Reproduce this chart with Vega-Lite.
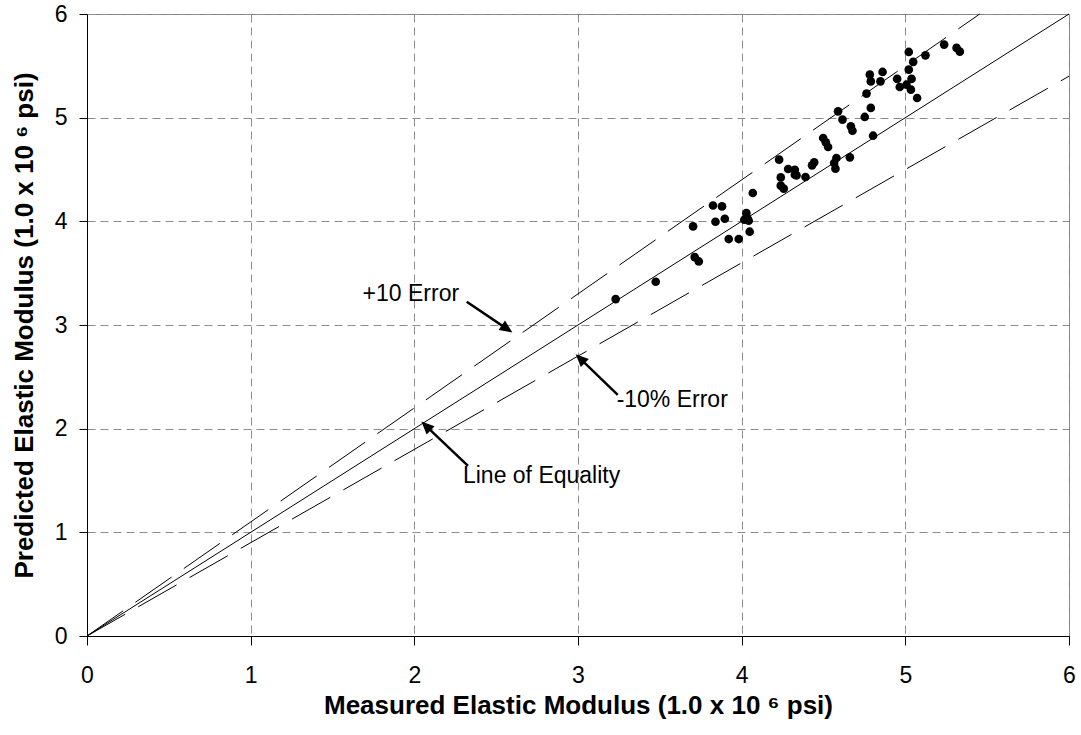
{
  "$schema": "https://vega.github.io/schema/vega-lite/v6.json",
  "width": 982,
  "height": 622,
  "autosize": {"type": "none"},
  "padding": {"left": 87, "top": 14, "right": 12, "bottom": 99},
  "background": "white",
  "config": {
    "font": "Liberation Sans",
    "view": {"stroke": "#808080", "strokeWidth": 1},
    "axis": {
      "grid": true,
      "gridDash": [8, 5],
      "gridColor": "#8c8c8c",
      "gridWidth": 1,
      "domainColor": "black",
      "domainWidth": 1,
      "tickColor": "black",
      "labelColor": "black",
      "titleColor": "black",
      "labelFont": "Liberation Sans",
      "titleFont": "Liberation Sans",
      "labelFontSize": 23,
      "titleFontSize": 26,
      "titleFontWeight": "bold",
      "labelFlush": false,
      "labelOverlap": false
    },
    "axisX": {"tickSize": 9, "labelPadding": 19, "titlePadding": 5},
    "axisY": {"tickSize": 8, "labelPadding": 12, "titlePadding": 17}
  },
  "datasets": {
    "points": [
      {"x": 3.23, "y": 3.25}, {"x": 3.475, "y": 3.417}, {"x": 3.703, "y": 3.951}, {"x": 3.825, "y": 4.153},
      {"x": 3.88, "y": 4.144}, {"x": 3.84, "y": 3.996}, {"x": 3.897, "y": 4.025}, {"x": 4.068, "y": 4.273},
      {"x": 4.029, "y": 4.08}, {"x": 4.037, "y": 4.025}, {"x": 4.016, "y": 4.015}, {"x": 4.043, "y": 4.006},
      {"x": 4.049, "y": 3.9}, {"x": 3.921, "y": 3.829}, {"x": 3.982, "y": 3.829}, {"x": 3.713, "y": 3.655},
      {"x": 3.738, "y": 3.613}, {"x": 4.229, "y": 4.595}, {"x": 4.239, "y": 4.424}, {"x": 4.239, "y": 4.344},
      {"x": 4.257, "y": 4.315}, {"x": 4.284, "y": 4.505}, {"x": 4.325, "y": 4.498}, {"x": 4.325, "y": 4.45},
      {"x": 4.335, "y": 4.443}, {"x": 4.39, "y": 4.428}, {"x": 4.43, "y": 4.54}, {"x": 4.443, "y": 4.569},
      {"x": 4.565, "y": 4.563}, {"x": 4.573, "y": 4.508}, {"x": 4.579, "y": 4.611}, {"x": 4.498, "y": 4.804},
      {"x": 4.514, "y": 4.762}, {"x": 4.528, "y": 4.717}, {"x": 4.589, "y": 5.061}, {"x": 4.616, "y": 4.981},
      {"x": 4.661, "y": 4.617}, {"x": 4.667, "y": 4.916}, {"x": 4.677, "y": 4.874}, {"x": 4.752, "y": 5.007},
      {"x": 4.763, "y": 5.232}, {"x": 4.789, "y": 5.094}, {"x": 4.803, "y": 4.826}, {"x": 4.783, "y": 5.415},
      {"x": 4.789, "y": 5.35}, {"x": 4.848, "y": 5.35}, {"x": 4.861, "y": 5.441}, {"x": 4.95, "y": 5.374},
      {"x": 4.966, "y": 5.296}, {"x": 5.007, "y": 5.318}, {"x": 5.034, "y": 5.27}, {"x": 5.038, "y": 5.374},
      {"x": 5.021, "y": 5.463}, {"x": 5.048, "y": 5.538}, {"x": 5.021, "y": 5.634}, {"x": 5.072, "y": 5.19},
      {"x": 5.123, "y": 5.601}, {"x": 5.237, "y": 5.705}, {"x": 5.313, "y": 5.673}, {"x": 5.333, "y": 5.637}
    ],
    "lines": [
      {"s": "eq", "x": 0, "y": 0}, {"s": "eq", "x": 6, "y": 6},
      {"s": "p10", "x": 0, "y": 0}, {"s": "p10", "x": 5.4545, "y": 6},
      {"s": "m10", "x": 0, "y": 0}, {"s": "m10", "x": 6, "y": 5.4}
    ],
    "arrows": [
      {"x": 2.32, "y": 3.224, "x2": 2.568, "y2": 2.96, "angle": 123.9, "hx": 2.599, "hy": 2.928},
      {"x": 3.243, "y": 2.326, "x2": 3.012, "y2": 2.679, "angle": 314.1, "hx": 2.986, "hy": 2.719},
      {"x": 2.328, "y": 1.641, "x2": 2.069, "y2": 2.029, "angle": 313.5, "hx": 2.043, "hy": 2.069}
    ],
    "labels": [
      {"x": 1.684, "y": 3.296, "t": "+10 Error"},
      {"x": 3.236, "y": 2.278, "t": "-10% Error"},
      {"x": 2.297, "y": 1.547, "t": "Line of Equality"}
    ]
  },
  "encoding": {
    "x": {"type": "quantitative", "scale": {"domain": [0, 6], "nice": false}, "axis": {"values": [0, 1, 2, 3, 4, 5, 6], "format": "d"}, "title": "Measured Elastic Modulus (1.0 x 10 ⁶ psi)"},
    "y": {"type": "quantitative", "scale": {"domain": [0, 6], "nice": false}, "axis": {"values": [0, 1, 2, 3, 4, 5, 6], "format": "d"}, "title": "Predicted Elastic Modulus (1.0 x 10 ⁶ psi)"}
  },
  "layer": [
    {
      "data": {"name": "points"},
      "mark": {"type": "point", "filled": true, "shape": "circle", "size": 75, "color": "black", "opacity": 1},
      "encoding": {
        "x": {"field": "x"},
        "y": {"field": "y"}
      }
    },
    {
      "data": {"name": "lines"},
      "transform": [{"filter": "datum.s === 'eq'"}],
      "mark": {"type": "line", "color": "black", "strokeWidth": 1},
      "encoding": {
        "x": {"field": "x"},
        "y": {"field": "y"},
        "detail": {"field": "s"}
      }
    },
    {
      "data": {"name": "lines"},
      "transform": [{"filter": "datum.s !== 'eq'"}],
      "mark": {"type": "line", "color": "black", "strokeWidth": 1, "strokeDash": [44, 15]},
      "encoding": {
        "x": {"field": "x"},
        "y": {"field": "y"},
        "detail": {"field": "s"}
      }
    },
    {
      "data": {"name": "arrows"},
      "mark": {"type": "rule", "color": "black", "strokeWidth": 2.5},
      "encoding": {
        "x": {"field": "x"},
        "y": {"field": "y"},
        "x2": {"field": "x2"},
        "y2": {"field": "y2"}
      }
    },
    {
      "data": {"name": "arrows"},
      "mark": {"type": "point", "filled": true, "shape": "M0,0L-0.45,1L0.45,1Z", "size": 650, "color": "black", "opacity": 1},
      "encoding": {
        "x": {"field": "hx"},
        "y": {"field": "hy"},
        "angle": {"field": "angle", "type": "quantitative", "scale": null}
      }
    },
    {
      "data": {"name": "labels"},
      "mark": {"type": "text", "align": "left", "baseline": "middle", "fontSize": 23, "font": "Liberation Sans", "color": "black"},
      "encoding": {
        "x": {"field": "x"},
        "y": {"field": "y"},
        "text": {"field": "t"}
      }
    }
  ]
}
